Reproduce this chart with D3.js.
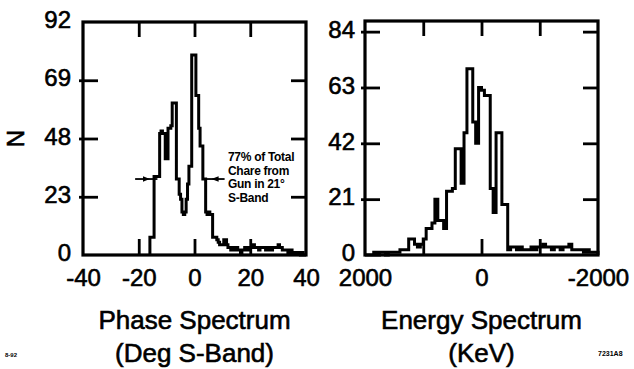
<!DOCTYPE html>
<html><head><meta charset="utf-8">
<script src="https://cdn.jsdelivr.net/npm/d3@7"></script>
<style>
body{margin:0;background:#fff}
svg{display:block}
text{font-family:"Liberation Sans",Arial,Helvetica,sans-serif;fill:#000}
</style>
</head><body>
<svg id="c" width="634" height="369"></svg>
<script>
// ---------- DATA ----------
// Phase spectrum: counts in 0.5 degree bins starting at -16 deg
const phaseBinStart = -16;
const phaseBinWidth = 0.5;
const phaseCounts = [
  7, 7, 7, 31, 31, 31, 31, 48, 49, 48, 48, 38, 38, 50, 50, 51,
  60, 60, 60, 30, 30, 24, 22, 17, 16, 17, 22, 28, 35, 35, 79, 79,
  79, 63, 63, 50, 43, 43, 30, 30, 17, 16, 17, 16, 16, 7, 7, 7,
  6, 5, 4, 4, 4, 6, 6, 4, 3, 3, 2, 3, 2, 2, 3, 2,
  2, 1, 2, 2, 3, 2, 2, 3, 3, 3, 4, 3, 3, 3, 2, 3,
  3, 3, 3, 2, 3, 3, 2, 2, 3, 3, 3, 3, 4, 3, 3, 2,
  2, 2, 2, 1, 1, 2, 1, 1, 1, 1, 1, 1, 0, 1, 0, 0
];
const phaseXTicks = [-40, -20, 0, 20, 40];
const phaseYTicks = [0, 23, 46, 69, 92];
const phaseYLabels = ["0", "23", "48", "69", "92"];

// Energy spectrum: counts in 50 keV bins starting at +2000 keV going down
const energyBinStart = 2000;
const energyBinWidth = -50;
const energyCounts = [
  0, 0, 0, 1, 0, 1, 1, 0, 1, 1, 1, 1,
  2, 2, 2, 6, 6, 4, 3, 4, 6, 10, 10, 12,
  21, 13, 13, 10, 24, 24, 25, 40, 40, 27, 46, 70,
  70, 50, 42, 63, 62, 60, 60, 25, 16, 46, 46, 19,
  19, 2, 3, 3, 2, 3, 2, 2, 2, 3, 2, 3,
  3, 4, 3, 3, 2, 3, 3, 2, 3, 3, 4, 2,
  2, 2, 2, 1, 2, 1, 1, 1
];
const energyXTicks = [2000, 0, -2000];
const energyXInner = [1000, 0, -1000];
const energyYTicks = [0, 21, 42, 63, 84];
const energyYLabels = ["0", "21", "42", "63", "84"];

const annotationLines = ["77% of Total", "Chare from", "Gun in 21\u00B0", "S-Band"];
const arrowLeft = [-21.3, -13.3];
const arrowRight = [10.8, 4];
const arrowLevel = 30;

// ---------- DRAW ----------
const svg = d3.select("#c");
svg.append("rect").attr("width", 634).attr("height", 369).attr("fill", "#fff");

svg.append("defs").append("marker")
  .attr("id", "ah").attr("viewBox", "0 0 10 10").attr("refX", 5).attr("refY", 5)
  .attr("markerWidth", 7).attr("markerHeight", 7).attr("markerUnits", "userSpaceOnUse")
  .attr("orient", "auto")
  .append("path").attr("d", "M0,1 L10,5 L0,9 Z").attr("fill", "#000");

const heavy = s => s.attr("stroke", "#000").attr("stroke-width", 0.6);

function panel(o) {
  const x = d3.scaleLinear().domain(o.xDomain).range([o.x0, o.x1]);
  const y = d3.scaleLinear().domain(o.yDomain).range([o.bottom, o.top]);
  const g = svg.append("g");

  // histogram
  const pts = [{x: o.binStart, y: 0}];
  o.counts.forEach((c, i) => pts.push({x: o.binStart + i * o.binWidth, y: c}));
  pts.push({x: o.binStart + o.counts.length * o.binWidth, y: 0});
  g.append("path")
    .attr("d", d3.line().x(d => x(d.x)).y(d => y(d.y)).curve(d3.curveStepAfter)(pts))
    .attr("fill", "none").attr("stroke", "#000").attr("stroke-width", 3)
    .attr("stroke-linejoin", "miter");

  // tick marks (inward, all four sides)
  const yInner = o.yTicks.filter(v => v > o.yDomain[0] && v < o.yDomain[1]);
  const tickStyle = s => { s.select(".domain").remove(); s.selectAll("line").attr("stroke-width", 2.8); s.selectAll("text").remove(); };
  g.append("g").attr("transform", `translate(${o.x0 - 4},0)`)
    .call(d3.axisLeft(y).tickValues(yInner).tickSize(-19)).call(tickStyle);
  g.append("g").attr("transform", `translate(${o.x1},0)`)
    .call(d3.axisRight(y).tickValues(yInner).tickSize(-15)).call(tickStyle);
  g.append("g").attr("transform", `translate(0,${o.top})`)
    .call(d3.axisTop(x).tickValues(o.xInner).tickSize(-15)).call(tickStyle);
  g.append("g").attr("transform", `translate(0,${o.bottom})`)
    .call(d3.axisBottom(x).tickValues(o.xInner).tickSize(-16)).call(tickStyle);

  // frame
  g.append("rect").attr("x", o.x0).attr("y", o.top)
    .attr("width", o.x1 - o.x0).attr("height", o.bottom - o.top)
    .attr("fill", "none").attr("stroke", "#000").attr("stroke-width", 3.2);

  // labels
  const labStyle = s => { s.select(".domain").remove(); s.attr("font-family", null).attr("font-size", null);
    s.selectAll("text").style("font-size", "24px").call(heavy); };
  g.append("g").attr("transform", `translate(${o.x0},-2)`)
    .call(d3.axisLeft(y).tickValues(o.yTicks).tickFormat((d, i) => o.yLabels[i]).tickSize(0).tickPadding(o.yPad))
    .call(labStyle);
  g.append("g").attr("transform", `translate(0,${o.bottom})`)
    .call(d3.axisBottom(x).tickValues(o.xTicks).tickFormat(d => String(d).replace("\u2212", "-")).tickSize(0).tickPadding(14))
    .call(labStyle);

  // titles
  const cx = (o.x0 + o.x1) / 2;
  o.title.forEach((t, i) => {
    svg.append("text").attr("x", cx).attr("y", 329 + i * 33).attr("text-anchor", "middle")
      .style("font-size", "26px").call(heavy).text(t);
  });
  return {x, y};
}

const P = panel({
  xDomain: [-40, 40], yDomain: [0, 92], x0: 83, x1: 306, top: 22, bottom: 255,
  binStart: phaseBinStart, binWidth: phaseBinWidth, counts: phaseCounts,
  xTicks: phaseXTicks, xInner: [-20, 0, 20], yTicks: phaseYTicks, yLabels: phaseYLabels, yPad: 12,
  title: ["Phase Spectrum", "(Deg S-Band)"]
});
panel({
  xDomain: [2000, -2000], yDomain: [0, 88], x0: 365, x1: 598, top: 21, bottom: 255,
  binStart: energyBinStart, binWidth: energyBinWidth, counts: energyCounts,
  xTicks: energyXTicks, xInner: energyXInner, yTicks: energyYTicks, yLabels: energyYLabels, yPad: 10,
  title: ["Energy Spectrum", "(KeV)"]
});

// Y axis title
svg.append("text").attr("transform", "translate(24,138.5) rotate(-90)")
  .attr("text-anchor", "middle").style("font-size", "24px").call(heavy).text("N");

// arrows
[arrowLeft, arrowRight].forEach(a => {
  const x1 = P.x(a[0]), x2 = P.x(a[1]), yy = P.y(arrowLevel);
  const xm = (x1 + x2) / 2;
  svg.append("line").attr("x1", x1).attr("x2", x2).attr("y1", yy).attr("y2", yy)
    .attr("stroke", "#000").attr("stroke-width", 1.8);
  svg.append("line").attr("x1", x1).attr("x2", xm).attr("y1", yy).attr("y2", yy)
    .attr("stroke", "none").attr("marker-end", "url(#ah)");
});

// annotation text
annotationLines.forEach((t, i) => {
  svg.append("text").attr("x", 228).attr("y", 161 + i * 13.6)
    .style("font-size", "12px").style("font-weight", "bold").style("letter-spacing", "-0.3px").text(t);
});

// small corner labels
svg.append("text").attr("x", 5).attr("y", 357).style("font-size", "6px").style("font-weight", "bold").text("8-92");
svg.append("text").attr("x", 598).attr("y", 356).style("font-size", "7px").style("font-weight", "bold").text("7231A8");
</script>
</body></html>
